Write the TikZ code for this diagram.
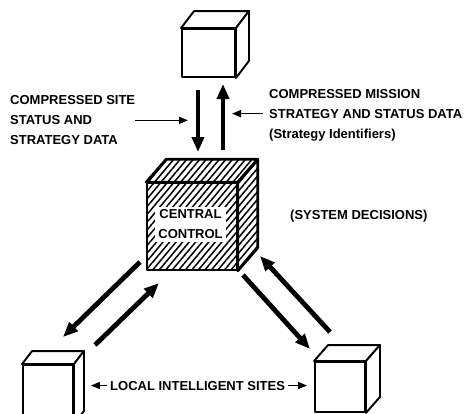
\documentclass[tikz,border=0pt]{standalone}
\usepackage{fontspec}
\setmainfont{Liberation Sans}
\usetikzlibrary{positioning,arrows.meta,calc,patterns.meta}

\newcommand{\cubedepth}[3][]{%
  \draw[face,#1] (#2.north west) -- ($(#2.north west)+#3$) -- ($(#2.north east)+#3$) -- (#2.north east) -- cycle;
  \draw[face,#1] (#2.north east) -- ($(#2.north east)+#3$) -- ($(#2.south east)+#3$) -- (#2.south east) -- cycle;}

\begin{document}
\begin{tikzpicture}[x=1pt,y=-1pt,>={Triangle[length=15pt,width=12pt]},
  face/.style={draw,line width=1.9pt,line join=round,fill=white},
  cube/.style={face,inner sep=0pt},
  hatch/.style={pattern={Lines[angle=50,distance=5pt,line width=1.5pt]}},
  flow/.style={->,line width=4.8pt},
  tick/.style={-{Triangle[length=9pt,width=7pt]},line width=1.6pt},
  lbl/.style={font=\bfseries\fontsize{13}{20}\selectfont,inner sep=0pt,align=left}]
\useasboundingbox (0,0) rectangle (469,413);
\clip (0,0) rectangle (469,413);

\node[cube,minimum width=53pt,minimum height=48pt] (site1) at (208.5,53) {};
\node[cube,minimum width=50pt,minimum height=58pt] (site2) at (48,394) {};
\node[cube,minimum width=50pt,minimum height=50pt] (site3) at (340,387) {};
\node[cube,line width=2.8pt,hatch,minimum width=90pt,minimum height=87pt] (ctrl) at (192,226.5) {};
\cubedepth{site1}{(13,-17)}
\cubedepth{site2}{(10,-13)}
\cubedepth{site3}{(14,-16)}
\cubedepth[line width=2.8pt,hatch]{ctrl}{(20,-23)}
\node[lbl,fill=white,inner sep=3pt,align=center] (ctrltext) at (190.5,224.5) {CENTRAL\\CONTROL};

\node[lbl,anchor=north west] (sitedata) at (10,95.5) {COMPRESSED SITE\\STATUS AND\\STRATEGY DATA};
\node[lbl,anchor=north west] (missiondata) at (269,89.5) {COMPRESSED MISSION\\STRATEGY AND STATUS DATA\\(Strategy Identifiers)};
\node[lbl,anchor=base west] (decisions) at (290,219) {(SYSTEM DECISIONS)};
\node[lbl,inner xsep=3pt,anchor=base west] (sites) at (107,390) {LOCAL INTELLIGENT SITES};

\coordinate (upS) at (198,90);
\coordinate (upE) at (198,152);
\coordinate (dnS) at (223,150);
\coordinate (dnE) at (223,84);
\coordinate (blS) at (140,262);
\coordinate (blE) at (63,337);
\coordinate (lbS) at (95,345);
\coordinate (lbE) at (159,283);
\coordinate (brS) at (243,275);
\coordinate (brE) at (310,349);
\coordinate (rbS) at (330,332);
\coordinate (rbE) at (260,256);

\draw[flow] (upS) -- (upE);
\draw[flow] (dnS) -- (dnE);
\draw[flow] (blS) -- (blE);
\draw[flow] (lbS) -- (lbE);
\draw[flow] (brS) -- (brE);
\draw[flow] (rbS) -- (rbE);

\draw[tick] (sitedata.east) -- ($(sitedata.east -| upS)+(-10,0)$);
\draw[tick] ($(missiondata.west)+(-6,-2)$) -- ($(missiondata.west -| dnS)+(9,-2)$);
\draw[tick] (sites.west) -- ($(sites.west -| site2.east)+(17,0)$);
\draw[tick] (sites.east) -- ($(sites.east -| site3.west)+(-7,0)$);
\end{tikzpicture}
\end{document}
